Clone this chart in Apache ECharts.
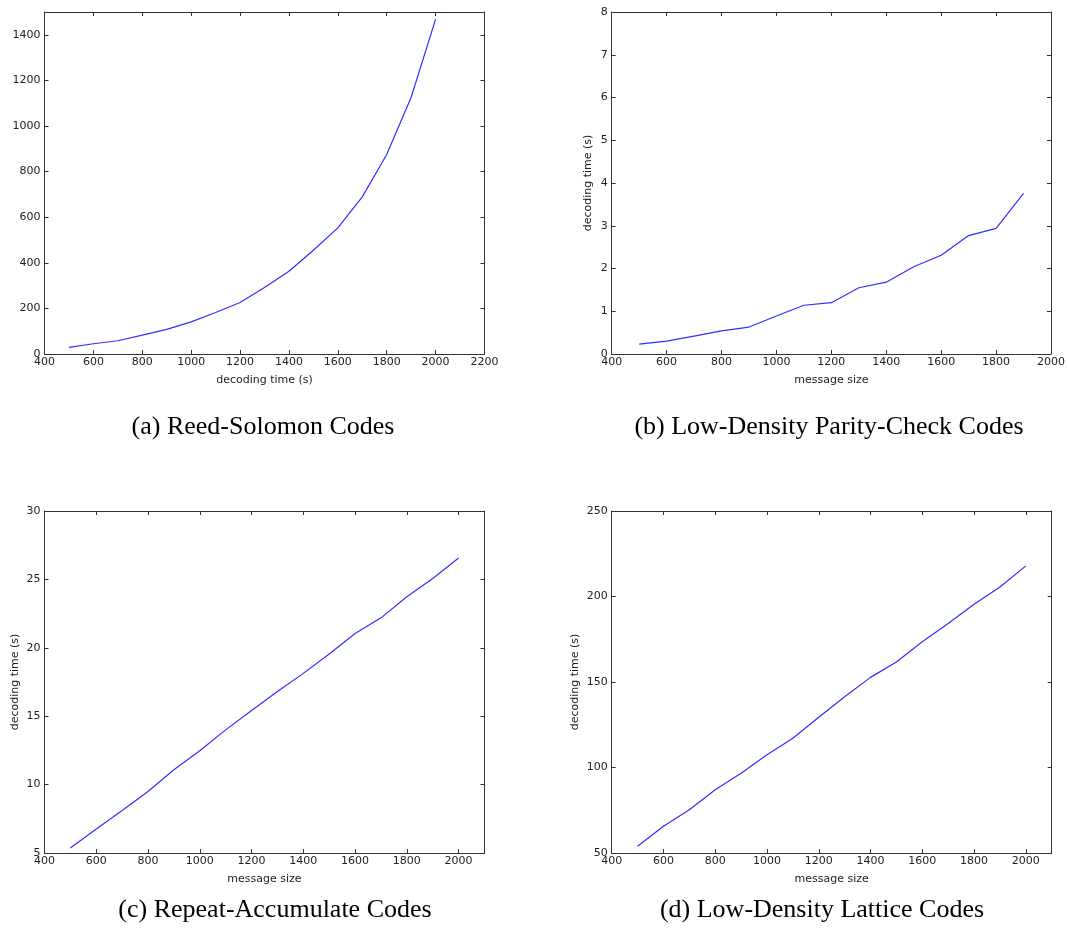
<!DOCTYPE html>
<html>
<head>
<meta charset="utf-8">
<script src="https://cdn.jsdelivr.net/npm/echarts@6/dist/echarts.min.js"></script>
<style>
html,body{margin:0;padding:0;background:#fff;}
#chart{width:1068px;height:936px;}
</style>
</head>
<body>
<div id="chart"></div>
<script>
// ---- data ----
const sizesFull = [500, 600, 700, 800, 900, 1000, 1100, 1200, 1300, 1400, 1500, 1600, 1700, 1800, 1900, 2000];
const sizesLdpc = [500, 600, 700, 800, 900, 1000, 1100, 1200, 1300, 1400, 1500, 1600, 1700, 1800, 1900];
const rsTimes   = [29, 45, 58, 83, 108, 141, 182, 226, 292, 363, 455, 553, 689, 875, 1126, 1469];
const ldpcTimes = [0.23, 0.30, 0.42, 0.54, 0.63, 0.89, 1.14, 1.20, 1.55, 1.68, 2.04, 2.31, 2.77, 2.94, 3.76];
const raTimes   = [5.36, 6.75, 8.1, 9.5, 11.08, 12.47, 14.0, 15.41, 16.8, 18.13, 19.54, 21.05, 22.19, 23.73, 25.06, 26.57];
const ldlcTimes = [53.9, 65.6, 75.3, 87.0, 96.7, 107.4, 117.1, 129.4, 141.4, 152.7, 161.7, 173.5, 184.2, 195.5, 205.6, 217.9];

// axis ranges: [min, max, interval]
const xRangeA = [400, 2200, 200];
const yRangeA = [0, 1500, 200];
const xRangeB = [400, 2000, 200];
const yRangeB = [0, 8, 1];
const xRangeC = [400, 2100, 200];
const yRangeC = [5, 30, 5];
const xRangeD = [400, 2100, 200];
const yRangeD = [50, 250, 50];

const captions = ['(a) Reed-Solomon Codes', '(b) Low-Density Parity-Check Codes',
                  '(c) Repeat-Accumulate Codes', '(d) Low-Density Lattice Codes'];
const xNames = ['decoding time (s)', 'message size', 'message size', 'message size'];
const yNames = ['', 'decoding time (s)', 'decoding time (s)', 'decoding time (s)'];

// ---- layout ----
const grids = [
  {left: 44.5, top: 12, width: 440, height: 342},
  {left: 611.7, top: 12, width: 440, height: 342},
  {left: 44.5, top: 511, width: 440, height: 342},
  {left: 611.7, top: 511, width: 440, height: 342}
];
const panels = [
  {x: sizesFull, y: rsTimes, xr: xRangeA, yr: yRangeA, xMaxLabel: true, yMaxLabel: false, yGap: 18},
  {x: sizesLdpc, y: ldpcTimes, xr: xRangeB, yr: yRangeB, xMaxLabel: true, yMaxLabel: true, yGap: 18},
  {x: sizesFull, y: raTimes, xr: xRangeC, yr: yRangeC, xMaxLabel: false, yMaxLabel: true, yGap: 24},
  {x: sizesFull, y: ldlcTimes, xr: xRangeD, yr: yRangeD, xMaxLabel: false, yMaxLabel: true, yGap: 31}
];
const captionPos = [[258, 409], [824, 409], [270, 892], [817, 892]];

const frameColor = '#333';
const textColor = '#222';
const tickFont = 'DejaVu Sans';
const plain = v => String(v);

const xAxes = [], yAxes = [], series = [], titles = [];
panels.forEach((p, i) => {
  const lineStyle = {color: frameColor, width: 1};
  xAxes.push({
    type: 'value', gridIndex: i, position: 'bottom',
    min: p.xr[0], max: p.xr[1], interval: p.xr[2],
    name: xNames[i], nameLocation: 'middle', nameGap: 21,
    nameTextStyle: {fontFamily: tickFont, fontSize: 11, color: textColor},
    axisLine: {show: true, onZero: false, lineStyle},
    axisTick: {show: true, inside: true, length: 4, lineStyle},
    axisLabel: {fontFamily: tickFont, fontSize: 11, color: textColor, margin: 3, formatter: plain,
                showMaxLabel: p.xMaxLabel, showMinLabel: true},
    splitLine: {show: false}
  });
  xAxes.push({
    type: 'value', gridIndex: i, position: 'top',
    min: p.xr[0], max: p.xr[1], interval: p.xr[2],
    axisLine: {show: true, onZero: false, lineStyle},
    axisTick: {show: true, inside: true, length: 4, lineStyle},
    axisLabel: {show: false}, splitLine: {show: false}
  });
  yAxes.push({
    type: 'value', gridIndex: i, position: 'left',
    min: p.yr[0], max: p.yr[1], interval: p.yr[2],
    name: yNames[i], nameLocation: 'middle', nameGap: p.yGap, nameRotate: 90,
    nameTextStyle: {fontFamily: tickFont, fontSize: 11, color: textColor},
    axisLine: {show: true, onZero: false, lineStyle},
    axisTick: {show: true, inside: true, length: 4, lineStyle},
    axisLabel: {fontFamily: tickFont, fontSize: 11, color: textColor, margin: 4, formatter: plain,
                showMaxLabel: p.yMaxLabel, showMinLabel: true},
    splitLine: {show: false}
  });
  yAxes.push({
    type: 'value', gridIndex: i, position: 'right',
    min: p.yr[0], max: p.yr[1], interval: p.yr[2],
    axisLine: {show: true, onZero: false, lineStyle},
    axisTick: {show: true, inside: true, length: 4, lineStyle},
    axisLabel: {show: false}, splitLine: {show: false}
  });
  series.push({
    type: 'line', xAxisIndex: 2 * i, yAxisIndex: 2 * i,
    data: p.x.map((v, k) => [v, p.y[k]]),
    showSymbol: false, symbol: 'none',
    lineStyle: {color: '#2f2fff', width: 1.2},
    animation: false
  });
  titles.push({
    text: captions[i], left: captionPos[i][0], top: captionPos[i][1], textAlign: 'center',
    textStyle: {fontFamily: 'Liberation Serif', fontSize: 26, fontWeight: 'normal', color: '#000'}
  });
});

const chart = echarts.init(document.getElementById('chart'), null, {renderer: 'canvas'});
chart.setOption({
  animation: false,
  backgroundColor: '#fff',
  title: titles,
  grid: grids,
  xAxis: xAxes,
  yAxis: yAxes,
  series: series
});
</script>
</body>
</html>
